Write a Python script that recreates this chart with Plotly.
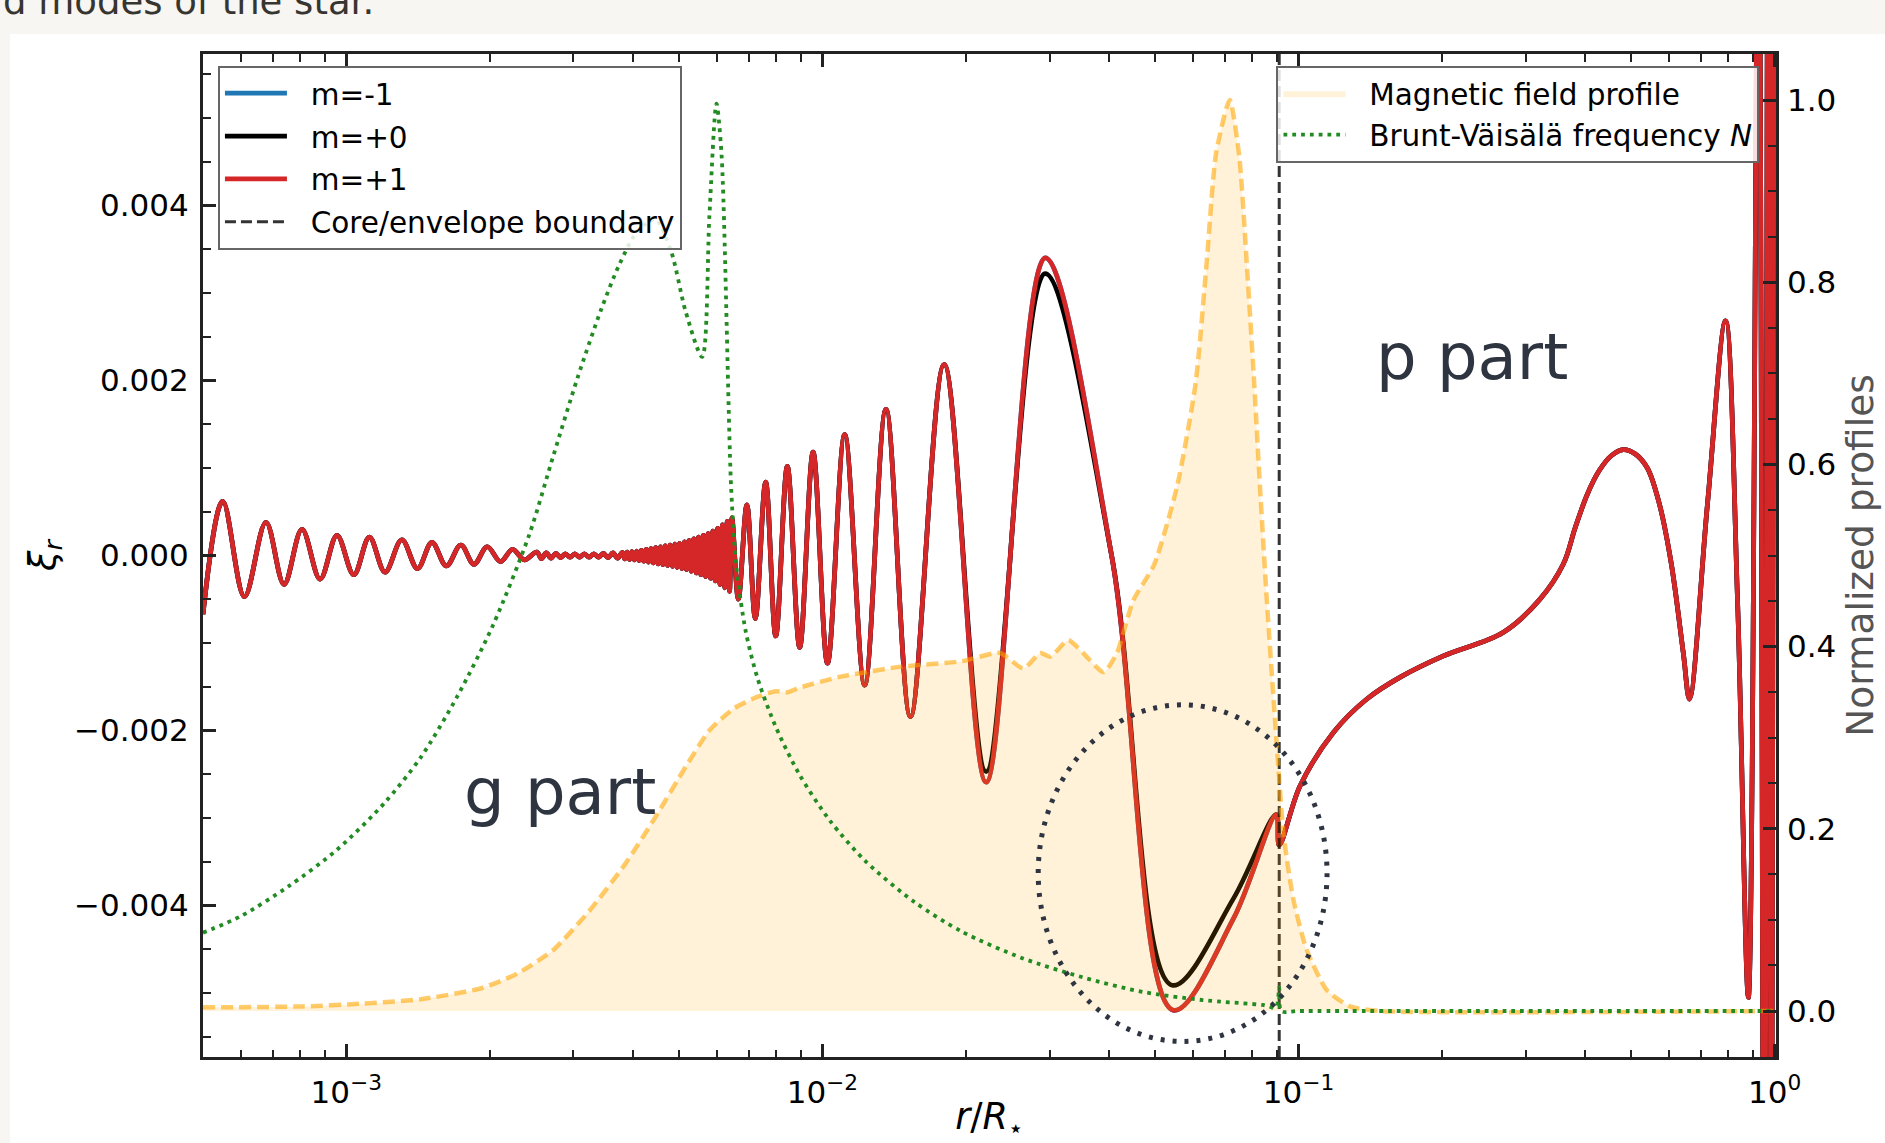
import math
import plotly.graph_objects as go

# ---------------- data ----------------
# g-part, inner oscillations of xi_r
R_G = [5.0e-4, 5.50e-4, 6.11e-4, 6.78e-4, 7.40e-4, 8.07e-4, 8.81e-4, 9.56e-4,
       1.037e-3, 1.118e-3, 1.206e-3, 1.308e-3, 1.411e-3, 1.513e-3, 1.622e-3,
       1.740e-3, 1.854e-3, 1.977e-3, 2.108e-3, 2.234e-3, 2.367e-3]
XI_G = [-0.67e-3, 0.62e-3, -0.47e-3, 0.38e-3, -0.33e-3, 0.30e-3, -0.27e-3, 0.23e-3,
        -0.22e-3, 0.21e-3, -0.19e-3, 0.18e-3, -0.15e-3, 0.15e-3, -0.12e-3,
        0.12e-3, -0.10e-3, 0.10e-3, -0.07e-3, 0.07e-3, -0.05e-3]

# unresolved (dense) oscillation band
R_BAND = [2.512e-3, 2.570e-3, 2.630e-3, 2.692e-3, 2.754e-3, 2.818e-3, 2.884e-3, 2.951e-3,
          3.020e-3, 3.090e-3, 3.162e-3, 3.236e-3, 3.311e-3, 3.388e-3, 3.467e-3, 3.548e-3,
          3.631e-3, 3.715e-3, 3.802e-3,
          3.846e-3, 3.890e-3, 3.936e-3, 3.981e-3, 4.027e-3, 4.074e-3, 4.121e-3, 4.169e-3,
          4.217e-3, 4.266e-3, 4.315e-3, 4.365e-3, 4.416e-3, 4.467e-3, 4.519e-3, 4.571e-3,
          4.624e-3, 4.677e-3, 4.732e-3, 4.786e-3, 4.842e-3, 4.898e-3, 4.955e-3, 5.012e-3,
          5.070e-3, 5.129e-3, 5.188e-3, 5.248e-3, 5.309e-3, 5.370e-3, 5.433e-3, 5.495e-3,
          5.559e-3, 5.623e-3, 5.689e-3, 5.754e-3, 5.821e-3, 5.888e-3, 5.957e-3, 6.026e-3,
          6.095e-3, 6.166e-3, 6.237e-3, 6.310e-3, 6.383e-3, 6.457e-3]
XI_BAND = [0.04e-3, -0.035e-3, 0.03e-3, -0.03e-3, 0.025e-3, -0.025e-3, 0.02e-3, -0.02e-3,
           0.02e-3, -0.02e-3, 0.02e-3, -0.02e-3, 0.02e-3, -0.02e-3, 0.025e-3, -0.025e-3,
           0.03e-3, -0.03e-3, 0.035e-3,
           -0.04e-3, 0.04e-3, -0.045e-3, 0.045e-3, -0.05e-3, 0.05e-3, -0.055e-3, 0.06e-3,
           -0.065e-3, 0.07e-3, -0.075e-3, 0.08e-3, -0.085e-3, 0.09e-3, -0.095e-3, 0.10e-3,
           -0.105e-3, 0.11e-3, -0.115e-3, 0.12e-3, -0.125e-3, 0.13e-3, -0.135e-3, 0.14e-3,
           -0.15e-3, 0.155e-3, -0.16e-3, 0.17e-3, -0.18e-3, 0.19e-3, -0.20e-3, 0.21e-3,
           -0.22e-3, 0.23e-3, -0.24e-3, 0.25e-3, -0.26e-3, 0.28e-3, -0.29e-3, 0.31e-3,
           -0.33e-3, 0.35e-3, -0.37e-3, 0.39e-3, -0.41e-3, 0.43e-3]

# resolved oscillations outside the band
R_OSC = [6.66e-3, 6.94e-3, 7.23e-3, 7.60e-3, 7.98e-3, 8.44e-3, 8.96e-3, 9.56e-3,
         0.01025, 0.01114, 0.01227, 0.01360, 0.01531, 0.01802]
XI_OSC = [-0.50e-3, 0.58e-3, -0.72e-3, 0.84e-3, -0.92e-3, 1.02e-3, -1.05e-3, 1.18e-3,
          -1.23e-3, 1.38e-3, -1.48e-3, 1.67e-3, -1.84e-3, 2.18e-3]

# outer core, where the azimuthal orders split
R_CORE_M1 = [0.02208, 0.02937, 0.0405, 0.0546, 0.0730, 0.0898]
XI_CORE_M1 = [-2.59e-3, 3.40e-3, 0.0, -5.195e-3, -4.15e-3, -2.96e-3]
R_CORE_0 = [0.02208, 0.02935, 0.0405, 0.0543, 0.0730, 0.0898]
XI_CORE_0 = [-2.47e-3, 3.22e-3, 0.0, -4.91e-3, -3.92e-3, -2.96e-3]
R_CORE_P1 = [0.02208, 0.02937, 0.0405, 0.0546, 0.0730, 0.0898]
XI_CORE_P1 = [-2.59e-3, 3.40e-3, 0.0, -5.195e-3, -4.15e-3, -2.96e-3]

# envelope (p part)
R_ENV = [0.0911, 0.1008, 0.1185, 0.1392, 0.1636, 0.2011, 0.2690, 0.3203, 0.3598,
         0.3814, 0.4043, 0.4283, 0.4539, 0.4813, 0.5099, 0.5404, 0.5728, 0.6071,
         0.6433, 0.6626, 0.7229, 0.7888, 0.8360, 0.881, 0.925, 0.951, 0.970, 0.985, 1.0]
XI_ENV = [-3.31e-3, -2.63e-3, -2.02e-3, -1.64e-3, -1.39e-3, -1.15e-3, -0.88e-3, -0.51e-3,
          -0.10e-3, 0.32e-3, 0.70e-3, 0.97e-3, 1.14e-3, 1.21e-3, 1.16e-3, 1.00e-3,
          0.59e-3, -0.10e-3, -1.12e-3, -1.64e-3, 0.59e-3, 2.68e-3, -0.51e-3, -5.05e-3,
          8.0e-3, -10.0e-3, 10.0e-3, -10.0e-3, 10.0e-3]

# Brunt-Vaisala frequency (normalised)
R_N = [5.0e-4, 6.0e-4, 7.57e-4, 9.56e-4, 1.206e-3, 1.436e-3, 1.709e-3, 2.035e-3,
       2.423e-3, 2.72e-3, 3.06e-3, 3.43e-3, 3.75e-3, 4.09e-3, 4.46e-3, 4.81e-3,
       5.16e-3, 5.59e-3, 5.79e-3, 5.99e-3, 6.14e-3, 6.43e-3, 6.59e-3, 6.90e-3,
       7.31e-3, 7.98e-3, 8.96e-3, 0.01037, 0.01234, 0.01557, 0.01965, 0.0263,
       0.0352, 0.0470, 0.0629, 0.0841, 0.0897, 0.0911, 0.0920, 0.1, 1.0]
N_VAL = [0.086, 0.104, 0.137, 0.177, 0.229, 0.279, 0.345, 0.424,
         0.523, 0.609, 0.695, 0.770, 0.820, 0.856, 0.869, 0.834,
         0.768, 0.718, 0.873, 0.996, 0.94, 0.576, 0.49, 0.417,
         0.365, 0.312, 0.259, 0.209, 0.164, 0.120, 0.087, 0.058,
         0.037, 0.021, 0.012, 0.0066, 0.004, 0.026, 0.0, 0.0, 0.0]

# magnetic field profile (normalised)
R_B = [5.0e-4, 8.07e-4, 1.073e-3, 1.436e-3, 1.92e-3, 2.286e-3, 2.72e-3, 3.24e-3,
       3.86e-3, 4.46e-3, 5.16e-3, 5.79e-3, 6.51e-3, 7.31e-3, 7.98e-3, 8.45e-3,
       8.96e-3, 0.01092, 0.01464, 0.01965, 0.0236, 0.02644, 0.02867, 0.03009,
       0.03287, 0.03529, 0.03895, 0.04155, 0.04500, 0.04976, 0.0556, 0.0608,
       0.0642, 0.0671, 0.0717, 0.0751, 0.0781, 0.0805, 0.0830, 0.0858,
       0.0901, 0.0930, 0.0976, 0.1041, 0.1147, 0.1284, 0.1486, 1.0]
B_VAL = [0.004, 0.005, 0.008, 0.013, 0.025, 0.041, 0.067, 0.110,
         0.162, 0.213, 0.268, 0.308, 0.332, 0.345, 0.351, 0.350,
         0.355, 0.367, 0.378, 0.384, 0.393, 0.376, 0.393, 0.389,
         0.407, 0.393, 0.372, 0.393, 0.451, 0.49, 0.576, 0.689,
         0.824, 0.941, 1.0, 0.938, 0.81, 0.70, 0.576, 0.451,
         0.290, 0.195, 0.122, 0.067, 0.023, 0.005, 0.0, 0.0]

R_BOUNDARY = 0.0911          # core / envelope boundary
HIGHLIGHT_R = [0.0284, 0.1148]          # dotted ellipse extent (r)
HIGHLIGHT_XI = [-0.005553, -0.001706]   # dotted ellipse extent (xi_r)

X_TICKS = [1e-3, 1e-2, 1e-1, 1.0]
X_TICKTEXT = ["10<sup>−3</sup>", "10<sup>−2</sup>", "10<sup>−1</sup>", "10<sup>0</sup>"]
Y_TICKS = [-0.004, -0.002, 0.0, 0.002, 0.004]
Y_TICKTEXT = ["−0.004", "−0.002", "0.000", "0.002", "0.004"]
Y2_TICKS = [0.0, 0.2, 0.4, 0.6, 0.8, 1.0]
Y2_TICKTEXT = ["0.0", "0.2", "0.4", "0.6", "0.8", "1.0"]

X_RANGE_LOG = [-3.301, 0.003]
Y_RANGE = [-0.00573, 0.00573]
Y2_RANGE = [-0.0505, 1.0505]

# ---------------- assemble series ----------------
R_M1 = R_G + R_BAND + R_OSC + R_CORE_M1 + R_ENV
XI_M1 = XI_G + XI_BAND + XI_OSC + XI_CORE_M1 + XI_ENV
R_0 = R_G + R_BAND + R_OSC + R_CORE_0 + R_ENV
XI_0 = XI_G + XI_BAND + XI_OSC + XI_CORE_0 + XI_ENV
R_P1 = R_G + R_BAND + R_OSC + R_CORE_P1 + R_ENV
XI_P1 = XI_G + XI_BAND + XI_OSC + XI_CORE_P1 + XI_ENV

FONT = "DejaVu Sans"
AX_COLOR = "#222222"
PAD = "\u00a0\u00a0"   # gap between legend sample and label

fig = go.Figure()

for r, xi, name, color in [(R_M1, XI_M1, "m=-1", "#1f77b4"),
                           (R_0, XI_0, "m=+0", "#000000"),
                           (R_P1, XI_P1, "m=+1", "#d62728")]:
    fig.add_trace(go.Scatter(x=r, y=xi, mode="lines", name=PAD + name, legend="legend",
                             legendgroup=name,
                             line=dict(color=color, width=4.7, shape="spline", smoothing=1.0)))

fig.add_trace(go.Scatter(x=[R_BOUNDARY, R_BOUNDARY], y=Y_RANGE, mode="lines",
                         name=PAD + "Core/envelope boundary", legend="legend",
                         legendgroup="boundary",
                         line=dict(color="rgba(0,0,0,0.8)", width=3, dash="11px,5px")))

# twin-axis profiles (drawn on top)
fig.add_trace(go.Scatter(x=R_B, y=B_VAL, yaxis="y2", mode="lines", fill="tozeroy",
                         fillcolor="rgba(255,165,0,0.15)",
                         line=dict(width=0, shape="spline", smoothing=0.6),
                         name=PAD + "Magnetic field profile", legend="legend2",
                         legendgroup="B"))
fig.add_trace(go.Scatter(x=R_B, y=B_VAL, yaxis="y2", mode="lines", showlegend=False,
                         line=dict(color="rgba(255,165,0,0.58)", width=4.5, dash="12px,6px",
                                   shape="spline", smoothing=0.6)))
fig.add_trace(go.Scatter(x=R_N, y=N_VAL, yaxis="y2", mode="lines",
                         name=PAD + "Brunt-Väisälä frequency <i>N</i>", legend="legend2",
                         legendgroup="N",
                         line=dict(color="#228b22", width=3.8, dash="3.8px,5px",
                                   shape="spline", smoothing=0.8)))

minor_x = [m * 10.0 ** e for e in range(-4, 1) for m in range(2, 10)]

fig.update_layout(
    width=1885, height=1143,
    margin=dict(l=203, r=109, t=54, b=86, pad=0, autoexpand=False),
    paper_bgcolor="#f7f6f3", plot_bgcolor="white",
    font=dict(family=FONT, size=29, color="black"),
    showlegend=True,
    xaxis=dict(type="log", range=X_RANGE_LOG, showgrid=False, zeroline=False, automargin=False,
               showline=True, linewidth=3, linecolor=AX_COLOR, mirror="ticks",
               ticks="inside", ticklen=13, tickwidth=2.5, tickcolor=AX_COLOR,
               tickmode="array", tickvals=X_TICKS, ticktext=X_TICKTEXT,
               tickfont=dict(size=31), ticklabelstandoff=6,
               minor=dict(ticks="inside", ticklen=7.5, tickwidth=2, tickcolor=AX_COLOR,
                          tickmode="array", tickvals=minor_x, showgrid=False),
               title=dict(text="<i>r</i>/<i>R</i><sub>⋆</sub>", font=dict(size=36.5), standoff=16)),
    yaxis=dict(range=Y_RANGE, showgrid=False, zeroline=False, automargin=False,
               showline=True, linewidth=3, linecolor=AX_COLOR, mirror=True,
               ticks="inside", ticklen=13, tickwidth=2.5, tickcolor=AX_COLOR,
               tickmode="array", tickvals=Y_TICKS, ticktext=Y_TICKTEXT,
               tickfont=dict(size=31), ticklabelstandoff=5,
               minor=dict(ticks="inside", ticklen=8, tickwidth=2, tickcolor=AX_COLOR,
                          tick0=0, dtick=0.0005, showgrid=False),
               title=dict(text="<i>ξ</i><sub><i>r</i></sub>", font=dict(size=36.5), standoff=8)),
    yaxis2=dict(overlaying="y", side="right", range=Y2_RANGE, showgrid=False, zeroline=False,
                automargin=False,
                showline=False, ticks="inside", ticklen=13, tickwidth=2.5, tickcolor=AX_COLOR,
                tickmode="array", tickvals=Y2_TICKS, ticktext=Y2_TICKTEXT,
                tickfont=dict(size=31), ticklabelstandoff=10,
                minor=dict(ticks="inside", ticklen=8, tickwidth=2, tickcolor=AX_COLOR,
                           tick0=0, dtick=0.05, showgrid=False),
                title=dict(text="Normalized profiles", font=dict(size=37.5, color="#555555"),
                           standoff=11)),
    legend=dict(x=0.0095, y=0.9885, xanchor="left", yanchor="top",
                bgcolor="rgba(255,255,255,0.85)", bordercolor="#666666", borderwidth=2,
                font=dict(size=29.5, family=FONT), itemwidth=62,
                traceorder="grouped", tracegroupgap=1.5),
    legend2=dict(x=0.9895, y=0.9885, xanchor="right", yanchor="top",
                 bgcolor="rgba(255,255,255,0.85)", bordercolor="#666666", borderwidth=2,
                 font=dict(size=29.5, family=FONT), itemwidth=62,
                 traceorder="grouped", tracegroupgap=0),
)

# white card behind the figure (page background above / left)
fig.add_shape(type="rect", xref="paper", yref="paper", layer="below",
              x0=(10 - 203) / 1573, x1=1.2, y0=-0.3, y1=(1057 - 34) / 1003,
              fillcolor="white", line=dict(width=0))

# dotted highlight ellipse
fig.add_shape(type="circle", xref="x", yref="y", layer="above",
              x0=HIGHLIGHT_R[0], x1=HIGHLIGHT_R[1], y0=HIGHLIGHT_XI[0], y1=HIGHLIGHT_XI[1],
              line=dict(color="#2e3440", width=5, dash="4px,8px"))

fig.add_annotation(x=math.log10(2.81e-3), y=-0.0027, xref="x", yref="y", text="g part",
                   showarrow=False, font=dict(size=64, color="#2e3440", family=FONT))
fig.add_annotation(x=math.log10(0.232), y=0.00227, xref="x", yref="y", text="p part",
                   showarrow=False, font=dict(size=64, color="#2e3440", family=FONT))
fig.add_annotation(x=(376 - 203) / 1573, y=(1057 - 25) / 1003, xref="paper", yref="paper",
                   xanchor="right", yanchor="bottom", text="d modes of the star.",
                   showarrow=False, font=dict(size=37, color="#37352f", family=FONT))

fig.write_html("out.html", config={"displayModeBar": False},
               post_script="document.body.style.margin='0';document.body.style.overflow='hidden';")
